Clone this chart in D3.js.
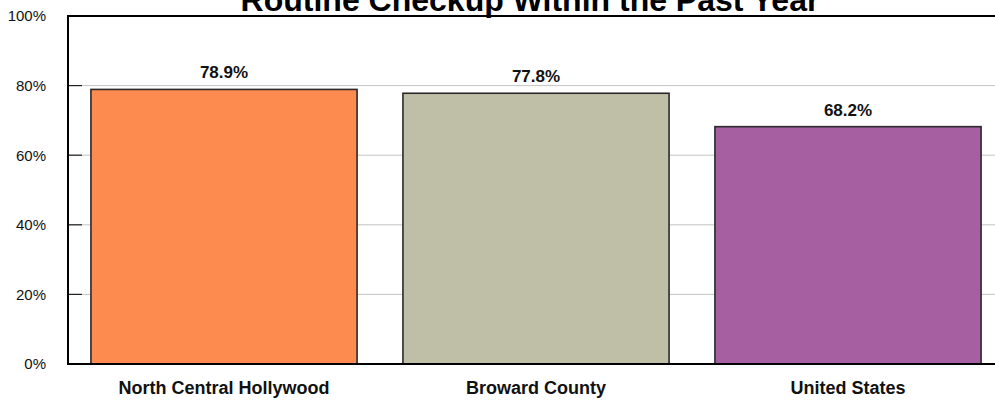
<!DOCTYPE html>
<html>
<head>
<meta charset="utf-8">
<script src="https://cdn.jsdelivr.net/npm/d3@7"></script>
<style>
html,body{margin:0;padding:0;background:#fff;}
svg{display:block;font-family:"Liberation Sans",Arial,sans-serif;}
</style>
</head>
<body>
<svg id="chart" width="995" height="403"></svg>
<script>
const title = "Routine Checkup Within the Past Year";
const categories = ["North Central Hollywood", "Broward County", "United States"];
const values = [78.9, 77.8, 68.2];
const colors = ["#FD8B4F", "#BFBFA8", "#A65FA0"];
const yTicks = [0, 20, 40, 60, 80, 100];

const svg = d3.select("#chart");
const pLeft = 68, pRight = 1004, pTop = 16, pBottom = 364;

const x = d3.scaleBand().domain(categories).range([pLeft, pRight])
  .paddingInner(0.147).paddingOuter(0.0735);
const y = d3.scaleLinear().domain([0, 100]).range([pBottom, pTop]);

// gridlines
svg.append("g").selectAll("line").data(yTicks.filter(t => t > 0 && t < 100)).join("line")
  .attr("x1", pLeft).attr("x2", 995)
  .attr("y1", d => y(d)).attr("y2", d => y(d))
  .attr("stroke", "#c4c4c4").attr("stroke-width", 1);

// tick marks (inner)
svg.append("g").selectAll("line").data(yTicks).join("line")
  .attr("x1", pLeft).attr("x2", pLeft + 14)
  .attr("y1", d => y(d)).attr("y2", d => y(d))
  .attr("stroke", "#222").attr("stroke-width", 1.2);

// bars
svg.append("g").selectAll("rect").data(values).join("rect")
  .attr("x", (d, i) => x(categories[i]))
  .attr("y", d => y(d))
  .attr("width", x.bandwidth())
  .attr("height", d => y(0) - y(d))
  .attr("fill", (d, i) => colors[i])
  .attr("stroke", "#2a2a2a").attr("stroke-width", 1.6);

// frame
svg.append("line").attr("x1", pLeft).attr("x2", 995).attr("y1", pTop).attr("y2", pTop)
  .attr("stroke", "#000").attr("stroke-width", 2);
svg.append("line").attr("x1", pLeft).attr("x2", pLeft).attr("y1", pTop - 1).attr("y2", pBottom + 1)
  .attr("stroke", "#000").attr("stroke-width", 2);
svg.append("line").attr("x1", pLeft).attr("x2", 995).attr("y1", pBottom).attr("y2", pBottom)
  .attr("stroke", "#000").attr("stroke-width", 2);

// y tick labels
svg.append("g").selectAll("text").data(yTicks).join("text")
  .attr("x", 46).attr("y", d => y(d)).attr("dy", "0.36em")
  .attr("text-anchor", "end").attr("font-size", 15).attr("fill", "#111")
  .text(d => d + "%");

// value labels
svg.append("g").selectAll("text").data(values).join("text")
  .attr("x", (d, i) => x(categories[i]) + x.bandwidth() / 2)
  .attr("y", d => y(d) - 11)
  .attr("text-anchor", "middle").attr("font-size", 17).attr("font-weight", "bold").attr("fill", "#111")
  .text(d => d.toFixed(1) + "%");

// category labels
svg.append("g").selectAll("text").data(categories).join("text")
  .attr("x", d => x(d) + x.bandwidth() / 2)
  .attr("y", 394)
  .attr("text-anchor", "middle").attr("font-size", 18).attr("font-weight", "bold").attr("fill", "#111")
  .text(d => d);

// title
svg.append("text").attr("x", 530).attr("y", 11)
  .attr("text-anchor", "middle").attr("font-size", 32).attr("font-weight", "bold").attr("fill", "#000")
  .text(title);
</script>
</body>
</html>
